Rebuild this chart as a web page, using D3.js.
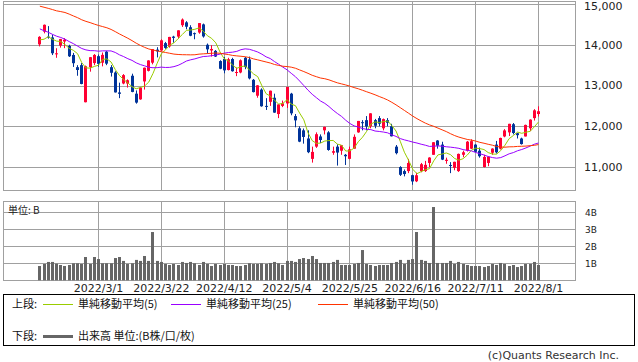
<!DOCTYPE html>
<html>
<head>
<meta charset="utf-8">
<script src="https://cdn.jsdelivr.net/npm/d3@7"></script>
<style>
body { margin: 0; background: #fff; }
svg { display: block; font-family: "DejaVu Sans", sans-serif; }
.jp { font-family: "Noto Sans CJK JP", sans-serif; }
</style>
</head>
<body>
<svg id="chart" width="638" height="362"></svg>
<script>
const dates = [
  "2022/2/8","2022/2/9","2022/2/10","2022/2/11","2022/2/14","2022/2/15","2022/2/16","2022/2/17","2022/2/18","2022/2/22","2022/2/23","2022/2/24","2022/2/25","2022/2/28",
  "2022/3/1","2022/3/2","2022/3/3","2022/3/4","2022/3/7","2022/3/8","2022/3/9","2022/3/10","2022/3/11","2022/3/14","2022/3/15","2022/3/16","2022/3/17","2022/3/18","2022/3/21","2022/3/22","2022/3/23","2022/3/24","2022/3/25","2022/3/28","2022/3/29","2022/3/30","2022/3/31",
  "2022/4/1","2022/4/4","2022/4/5","2022/4/6","2022/4/7","2022/4/8","2022/4/11","2022/4/12","2022/4/13","2022/4/14","2022/4/18","2022/4/19","2022/4/20","2022/4/21","2022/4/22","2022/4/25","2022/4/26","2022/4/27","2022/4/28","2022/4/29",
  "2022/5/2","2022/5/3","2022/5/4","2022/5/5","2022/5/6","2022/5/9","2022/5/10","2022/5/11","2022/5/12","2022/5/13","2022/5/16","2022/5/17","2022/5/18","2022/5/19","2022/5/20","2022/5/23","2022/5/24","2022/5/25","2022/5/26","2022/5/27","2022/5/31",
  "2022/6/1","2022/6/2","2022/6/3","2022/6/6","2022/6/7","2022/6/8","2022/6/9","2022/6/10","2022/6/13","2022/6/14","2022/6/15","2022/6/16","2022/6/17","2022/6/21","2022/6/22","2022/6/23","2022/6/24","2022/6/27","2022/6/28","2022/6/29","2022/6/30",
  "2022/7/1","2022/7/5","2022/7/6","2022/7/7","2022/7/8","2022/7/11","2022/7/12","2022/7/13","2022/7/14","2022/7/15","2022/7/18","2022/7/19","2022/7/20","2022/7/21","2022/7/22","2022/7/25","2022/7/26","2022/7/27","2022/7/28","2022/7/29",
  "2022/8/1"
]

const open = [
  14010,14322,14200,14180,13780,13980,14080,13970,13750,13450,13500,12590,13450,13550,
  13720,13560,13830,13450,13320,12830,13050,13050,13240,12800,12660,13100,13360,13560,13880,13860,14040,13960,14200,14200,14480,14550,14430,
  14285,14300,14500,14000,13860,13850,13600,13650,13380,13650,13320,13320,13680,13640,13140,12750,12900,12500,12600,12700,
  12300,12500,12560,12800,12250,11950,11900,11700,11200,11500,11750,11900,11850,11350,11500,11400,11300,11200,11450,11850,12100,
  12150,12000,12150,12200,11950,12150,12000,11500,11000,10900,10900,10800,10650,10900,10900,11100,11300,11650,11550,11150,11050,
  10980,10900,11300,11400,11450,11550,11400,11000,11100,11350,11550,11450,11750,11850,12050,11830,11700,11750,11950,12200,
  12300
]
const high = [
  14210,14497,14458,14250,13915,14144,14162,14000,13800,13500,13550,13490,13700,13772,
  13760,13810,13850,13500,13350,13070,13280,13151,13290,12880,12965,13440,13620,13895,13940,14135,14070,14194,14220,14355,14646,14580,14480,
  14300,14534,14520,14030,13990,13870,13620,13700,13680,13680,13440,13640,13700,13710,13160,13010,12930,12690,12875,12800,
  12540,12630,12970,12820,12300,12000,11945,11900,11500,11850,11800,11990,11880,11500,11560,11540,11320,11500,11800,12131,12150,
  12250,12320,12180,12250,12190,12200,12060,11540,11020,10940,11200,10810,10860,11100,11150,11240,11610,11660,11620,11230,11120,
  11130,11330,11400,11640,11680,11560,11480,11300,11260,11460,11640,11720,11930,12060,12080,11840,11720,12040,12170,12420,
  12490
]
const low = [
  13960,14280,14150,13747,13680,13930,13917,13700,13456,13240,13030,12587,13340,13500,
  13460,13470,13500,13220,12828,12690,13030,12950,12835,12555,12650,12900,13345,13520,13690,13850,13900,13930,14050,14150,14437,14380,14210,
  14135,14270,14175,13780,13710,13700,13400,13300,13370,13340,13230,13300,13400,13150,12830,12700,12480,12400,12500,12330,
  12200,12470,12450,12270,11975,11610,11573,11340,11108,11470,11590,11800,11400,11300,11035,11300,11050,11190,11450,11840,11900,
  11900,11950,11950,12000,11900,12000,11750,11310,10780,10770,10850,10565,10630,10870,10880,11000,11300,11450,11170,11080,10850,
  10920,10880,11240,11380,11440,11360,11230,10990,11020,11300,11330,11430,11730,11760,11800,11700,11550,11750,11880,12140,
  12240
]
const close = [
  14194,14490,14186,13791,13790,14139,14124,13717,13548,13381,13038,13474,13695,13751,
  13532,13752,13537,13313,12831,12796,13255,13130,12843,12581,12949,13437,13615,13894,13838,14109,13923,14192,14169,14354,14619,14443,14221,
  14262,14532,14204,13888,13897,13711,13411,13372,13644,13351,13332,13619,13453,13175,12839,13004,12491,12489,12872,12335,
  12536,12564,12965,12318,12145,11623,11738,11364,11371,11805,11663,11985,11418,11389,11355,11535,11264,11435,11741,12131,12081,
  11994,12317,12013,12062,12175,12086,11754,11340,10809,10828,11099,10646,10798,11069,11053,11232,11608,11524,11182,11178,11029,
  11128,11322,11362,11622,11635,11373,11265,11248,11252,11452,11360,11713,11898,12060,11834,11782,11563,12033,12163,12391,
  12369
]
// closes before the visible window, needed for the moving averages
const priorClose = [
  15783,15538,
  15254,15381,15085,15225,15687,15787,15517,15631,15413,15238,15566,15180,15170,14981,15341,15522,15653,15871,15782,15766,15742,15645,
  15833,15623,15100,15081,14936,14943,15153,15188,14807,14894,14507,14340,14154,13769,13855,13539,13542,13353,13771,14240,
  14346,14418,13879,14098,14016
]
// volume, in B
const volume = [
  0.84,0.96,1.08,1.08,0.98,0.90,0.84,0.90,1.00,1.00,0.96,1.37,0.96,1.37,
  1.25,1.00,1.00,1.00,1.31,1.37,1.14,0.96,1.00,1.20,1.14,1.43,1.14,2.84,1.14,1.08,0.96,0.90,0.96,0.90,1.08,1.02,1.08,
  1.00,0.90,1.08,0.96,0.84,0.96,0.90,0.96,0.90,0.90,0.84,0.84,0.90,1.00,0.96,0.96,1.00,0.96,1.02,1.08,
  1.00,0.90,1.14,1.14,1.08,1.25,1.31,1.25,1.43,1.25,1.02,1.02,1.02,1.08,1.20,0.90,0.90,0.90,0.96,1.02,1.78,
  0.96,0.90,0.84,0.90,0.90,0.90,1.02,1.08,1.20,0.96,1.20,1.25,2.84,1.20,1.14,1.02,4.31,1.02,1.02,1.02,1.14,
  0.96,1.08,0.96,0.90,0.84,0.84,0.84,0.78,0.84,0.96,0.90,1.02,0.96,0.84,0.90,0.78,0.84,0.96,0.96,1.08,
  0.90
]

const priceTicks = [11000, 12000, 13000, 14000, 15000]
const volumeTicks = [1, 2, 3, 4]
const dateTicks = ["2022/3/1","2022/3/22","2022/4/12","2022/5/4","2022/5/25","2022/6/16","2022/7/11","2022/8/1"]
const maPeriods = [5, 25, 50]
const maColors = ["#99cc00", "#9900ff", "#ff3300"]
const maLabels = ["単純移動平均(5)", "単純移動平均(25)", "単純移動平均(50)"]

const svg = d3.select("#chart")
const left = 3, right = 575
const upTop = 1, upBottom = 190
const volTop = 201, volBottom = 280.3
const grid = "#a0a0a0"

const x = d3.scaleLinear().domain([-8.67, 127.83]).range([left, right])
const y = d3.scaleLinear().domain([10436, 15074]).range([upBottom, upTop])
const yv = d3.scaleLinear().domain([0, 4.665]).range([volBottom, volTop])

const px = v => Math.round(v) + 0.5

function drawGrid(top, bottom, scaleY, ticks) {
  const g = svg.append("g")
  g.selectAll("line.h").data(ticks).enter().append("line")
    .attr("x1", left).attr("x2", right)
    .attr("y1", d => px(scaleY(d))).attr("y2", d => px(scaleY(d)))
    .attr("stroke", grid)
  g.selectAll("line.v").data(dateTicks).enter().append("line")
    .attr("x1", d => px(x(dates.indexOf(d)))).attr("x2", d => px(x(dates.indexOf(d))))
    .attr("y1", top).attr("y2", bottom)
    .attr("stroke", grid)
  g.append("rect")
    .attr("x", left + 0.5).attr("y", top + 0.5)
    .attr("width", right - left).attr("height", Math.round(bottom - top))
    .attr("fill", "none").attr("stroke", grid)
}

drawGrid(upTop, upBottom, y, priceTicks)
drawGrid(volTop, volBottom, yv, volumeTicks)

// candles
const candles = svg.append("g")
dates.forEach((d, i) => {
  const up = close[i] >= open[i]
  const col = up ? "#ff0033" : "#003399"
  const cx = Math.round(x(i))
  candles.append("line")
    .attr("x1", cx + 0.5).attr("x2", cx + 0.5)
    .attr("y1", y(high[i])).attr("y2", y(low[i]))
    .attr("stroke", col)
  const yt = y(Math.max(open[i], close[i]))
  const yb = y(Math.min(open[i], close[i]))
  candles.append("rect")
    .attr("x", cx - 1).attr("width", 3)
    .attr("y", yt).attr("height", Math.max(1, yb - yt))
    .attr("fill", col)
})

// moving averages
const allClose = priorClose.concat(close)
const off = priorClose.length
maPeriods.forEach((n, k) => {
  const ma = close.map((c, i) => d3.mean(allClose.slice(off + i - n + 1, off + i + 1)))
  svg.append("path")
    .datum(ma)
    .attr("d", d3.line().x((d, i) => x(i) + 0.5).y(d => y(d)))
    .attr("fill", "none")
    .attr("stroke", maColors[k])
    .attr("stroke-width", 1)
})

// volume
svg.append("g").selectAll("rect").data(volume).enter().append("rect")
  .attr("x", (d, i) => Math.round(x(i)) - 1)
  .attr("width", 3)
  .attr("y", d => yv(d))
  .attr("height", d => volBottom - yv(d))
  .attr("fill", "#666")

// axis labels
svg.append("g").selectAll("text").data(priceTicks).enter().append("text")
  .attr("x", 584).attr("y", d => Math.max(y(d), 6)).attr("dy", "0.36em")
  .attr("font-size", 11).attr("fill", "#222")
  .text(d => d3.format(",")(d))

svg.append("g").selectAll("text").data(volumeTicks).enter().append("text")
  .attr("x", 585).attr("y", d => yv(d)).attr("dy", "0.36em")
  .attr("font-size", 9).attr("fill", "#222")
  .text(d => d + "B")

svg.append("g").selectAll("text").data(dateTicks).enter().append("text")
  .attr("x", d => x(dates.indexOf(d)) + 0.5).attr("y", 291.5)
  .attr("text-anchor", "middle")
  .attr("font-size", 11).attr("fill", "#222")
  .text(d => d)

svg.append("text").attr("class", "jp")
  .attr("x", 8).attr("y", 210).attr("dy", "0.36em")
  .attr("font-size", 10).attr("fill", "#222")
  .text("単位: B")

// legend
svg.append("rect")
  .attr("x", 3.5).attr("y", 294.5).attr("width", 631).attr("height", 51)
  .attr("fill", "none").attr("stroke", "#000")

const row1 = 304, row2 = 336
const leg = svg.append("g").attr("class", "jp").attr("font-size", 11).attr("fill", "#111")
leg.append("text").attr("x", 12).attr("y", row1).attr("dy", "0.36em").text("上段:")
const legX = [43, 171, 318]
maLabels.forEach((t, k) => {
  leg.append("line")
    .attr("x1", legX[k]).attr("x2", legX[k] + 30)
    .attr("y1", row1 + 0.5).attr("y2", row1 + 0.5)
    .attr("stroke", maColors[k])
  leg.append("text").attr("x", legX[k] + 35).attr("y", row1).attr("dy", "0.36em").text(t)
})
leg.append("text").attr("x", 12).attr("y", row2).attr("dy", "0.36em").text("下段:")
leg.append("line")
  .attr("x1", 43).attr("x2", 73).attr("y1", row2 + 0.5).attr("y2", row2 + 0.5)
  .attr("stroke", "#666").attr("stroke-width", 3)
leg.append("text").attr("x", 78).attr("y", row2).attr("dy", "0.36em").text("出来高 単位:(B株/口/枚)")

svg.append("text")
  .attr("x", 619).attr("y", 355).attr("dy", "0.36em")
  .attr("text-anchor", "end")
  .attr("font-size", 11).attr("fill", "#333")
  .text("(c)Quants Research Inc.")
</script>
</body>
</html>
